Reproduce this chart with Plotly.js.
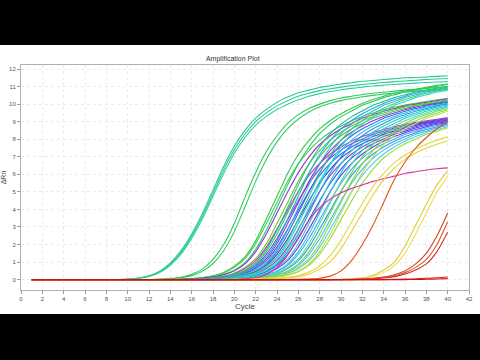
<!DOCTYPE html>
<html>
<head>
<meta charset="utf-8">
<script src="https://cdn.plot.ly/plotly-3.0.1.min.js"></script>
<style>
html,body{margin:0;padding:0;background:#000;width:480px;height:360px;overflow:hidden;}
#chart{position:absolute;left:0;top:45px;width:480px;height:269px;background:#fff;}
</style>
</head>
<body>
<div id="chart"></div>
<script>
const cycles = [1,2,3,4,5,6,7,8,9,10,11,12,13,14,15,16,17,18,19,20,21,22,23,24,25,26,27,28,29,30,31,32,33,34,35,36,37,38,39,40];

// earliest teal group
const a1 = [0,0,0,0,0,0,0,0,0,0.03,0.09,0.22,0.48,0.95,1.65,2.6,3.75,5.1,6.45,7.6,8.5,9.2,9.7,10.1,10.4,10.65,10.8,10.95,11.05,11.15,11.22,11.3,11.35,11.4,11.45,11.5,11.52,11.55,11.58,11.62];
const a2 = [0,0,0,0,0,0,0,0,0,0.02,0.07,0.18,0.4,0.82,1.45,2.35,3.45,4.75,6.05,7.2,8.1,8.8,9.3,9.7,10.0,10.25,10.45,10.6,10.72,10.82,10.9,10.97,11.03,11.08,11.12,11.16,11.2,11.23,11.26,11.28];
const a3 = [0,0,0,0,0,0,0,0,0,0.02,0.08,0.2,0.44,0.88,1.55,2.48,3.6,4.92,6.25,7.4,8.3,9.0,9.5,9.9,10.2,10.45,10.62,10.77,10.88,10.97,11.05,11.12,11.18,11.23,11.28,11.32,11.36,11.4,11.43,11.46];
// second green group
const b1 = [0,0,0,0,0,0,0,0,0,0,0,0,0.03,0.07,0.14,0.3,0.6,1.15,2.0,3.2,4.7,6.1,7.3,8.2,8.9,9.4,9.75,10.0,10.2,10.35,10.45,10.55,10.62,10.68,10.74,10.8,10.85,10.9,10.95,11.0];
const b2 = [0,0,0,0,0,0,0,0,0,0,0,0,0.02,0.05,0.11,0.23,0.48,0.92,1.65,2.75,4.15,5.6,6.85,7.85,8.6,9.15,9.55,9.85,10.05,10.2,10.32,10.42,10.5,10.57,10.63,10.69,10.74,10.79,10.83,10.87];

// main cluster
const c1 = [0,0,0,0,0,0,0,0,0,0,0,0,0,0.02,0.03,0.06,0.12,0.22,0.41,0.76,1.3,2.21,3.46,4.75,6.05,7.13,7.94,8.59,9.07,9.45,9.77,10.04,10.26,10.45,10.62,10.75,10.85,10.96,11.07,11.15];
const c2 = [0,0,0,0,0,0,0,0,0,0,0,0,0,0.015,0.03,0.055,0.11,0.2,0.38,0.7,1.2,2.05,3.2,4.4,5.6,6.6,7.35,7.95,8.4,8.75,9.05,9.3,9.5,9.68,9.83,9.95,10.05,10.15,10.25,10.32];
const c3 = [0,0,0,0,0,0,0,0,0,0,0,0,0,0,0.02,0.04,0.09,0.16,0.3,0.54,0.97,1.73,2.81,4.1,5.4,6.59,7.56,8.32,8.86,9.29,9.61,9.94,10.15,10.37,10.53,10.69,10.8,10.91,11.02,11.12];
const c4 = [0,0,0,0,0,0,0,0,0,0,0,0,0,0,0.02,0.04,0.08,0.15,0.28,0.5,0.9,1.6,2.6,3.8,5.0,6.1,7.0,7.7,8.2,8.6,8.9,9.2,9.4,9.6,9.75,9.9,10.0,10.1,10.2,10.3];
const c5 = [0,0,0,0,0,0,0,0,0,0,0,0,0,0,0.015,0.03,0.055,0.11,0.2,0.38,0.7,1.2,2.05,3.2,4.4,5.6,6.6,7.35,7.95,8.4,8.75,9.05,9.3,9.5,9.68,9.83,9.95,10.05,10.15,10.25];
const c6 = [0,0,0,0,0,0,0,0,0,0,0,0,0,0,0.01,0.03,0.05,0.1,0.18,0.34,0.63,1.08,1.85,2.88,3.96,5.04,5.94,6.62,7.16,7.56,7.88,8.15,8.37,8.55,8.71,8.85,8.96,9.05,9.14,9.23];
const c7 = [0,0,0,0,0,0,0,0,0,0,0,0,0,0,0,0.02,0.04,0.09,0.16,0.3,0.54,0.97,1.73,2.81,4.1,5.4,6.59,7.56,8.32,8.86,9.29,9.61,9.94,10.15,10.37,10.53,10.69,10.8,10.91,11.02];
const c8 = [0,0,0,0,0,0,0,0,0,0,0,0,0,0,0,0.02,0.04,0.07,0.14,0.25,0.45,0.81,1.44,2.34,3.42,4.5,5.49,6.3,6.93,7.38,7.74,8.01,8.28,8.46,8.64,8.78,8.91,9.0,9.09,9.18];
const c9 = [0,0,0,0,0,0,0,0,0,0,0,0,0,0,0,0.02,0.04,0.08,0.15,0.28,0.5,0.9,1.6,2.6,3.8,5.0,6.1,7.0,7.7,8.2,8.6,8.9,9.2,9.4,9.6,9.75,9.9,10.0,10.1,10.2];
const c10 = [0,0,0,0,0,0,0,0,0,0,0,0,0,0,0,0.01,0.03,0.05,0.1,0.18,0.34,0.63,1.08,1.85,2.88,3.96,5.04,5.94,6.62,7.16,7.56,7.88,8.15,8.37,8.55,8.71,8.85,8.96,9.05,9.14];
const c11 = [0,0,0,0,0,0,0,0,0,0,0,0,0,0,0,0.015,0.03,0.055,0.11,0.2,0.38,0.7,1.2,2.05,3.2,4.4,5.6,6.6,7.35,7.95,8.4,8.75,9.05,9.3,9.5,9.68,9.83,9.95,10.05,10.15];
const c12 = [0,0,0,0,0,0,0,0,0,0,0,0,0,0,0,0.02,0.03,0.06,0.12,0.22,0.41,0.76,1.3,2.21,3.46,4.75,6.05,7.13,7.94,8.59,9.07,9.45,9.77,10.04,10.26,10.45,10.62,10.75,10.85,10.96];
const c13 = [0,0,0,0,0,0,0,0,0,0,0,0,0,0,0,0,0.02,0.04,0.08,0.15,0.28,0.5,0.9,1.6,2.6,3.8,5.0,6.1,7.0,7.7,8.2,8.6,8.9,9.2,9.4,9.6,9.75,9.9,10.0,10.1];
const c14 = [0,0,0,0,0,0,0,0,0,0,0,0,0,0,0,0,0.02,0.04,0.07,0.14,0.25,0.45,0.81,1.44,2.34,3.42,4.5,5.49,6.3,6.93,7.38,7.74,8.01,8.28,8.46,8.64,8.78,8.91,9.0,9.09];
const c15 = [0,0,0,0,0,0,0,0,0,0,0,0,0,0,0,0,0.02,0.04,0.09,0.16,0.3,0.54,0.97,1.73,2.81,4.1,5.4,6.59,7.56,8.32,8.86,9.29,9.61,9.94,10.15,10.37,10.53,10.69,10.8,10.91];
const c16 = [0,0,0,0,0,0,0,0,0,0,0,0,0,0,0,0,0.01,0.03,0.05,0.1,0.18,0.34,0.63,1.08,1.85,2.88,3.96,5.04,5.94,6.62,7.16,7.56,7.88,8.15,8.37,8.55,8.71,8.85,8.96,9.05];
const c17 = [0,0,0,0,0,0,0,0,0,0,0,0,0,0,0,0,0.015,0.03,0.055,0.11,0.2,0.38,0.7,1.2,2.05,3.2,4.4,5.6,6.6,7.35,7.95,8.4,8.75,9.05,9.3,9.5,9.68,9.83,9.95,10.05];
const c18 = [0,0,0,0,0,0,0,0,0,0,0,0,0,0,0,0,0.02,0.03,0.06,0.12,0.22,0.41,0.76,1.3,2.21,3.46,4.75,6.05,7.13,7.94,8.59,9.07,9.45,9.77,10.04,10.26,10.45,10.62,10.75,10.85];
const c19 = [0,0,0,0,0,0,0,0,0,0,0,0,0,0,0,0,0,0.02,0.04,0.07,0.14,0.25,0.45,0.81,1.44,2.34,3.42,4.5,5.49,6.3,6.93,7.38,7.74,8.01,8.28,8.46,8.64,8.78,8.91,9.0];
const c20 = [0,0,0,0,0,0,0,0,0,0,0,0,0,0,0,0,0,0.02,0.04,0.08,0.15,0.28,0.5,0.9,1.6,2.6,3.8,5.0,6.1,7.0,7.7,8.2,8.6,8.9,9.2,9.4,9.6,9.75,9.9,10.0];
const c21 = [0,0,0,0,0,0,0,0,0,0,0,0,0,0,0,0,0,0.02,0.04,0.09,0.16,0.3,0.54,0.97,1.73,2.81,4.1,5.4,6.59,7.56,8.32,8.86,9.29,9.61,9.94,10.15,10.37,10.53,10.69,10.8];
const c22 = [0,0,0,0,0,0,0,0,0,0,0,0,0,0,0,0,0,0.01,0.03,0.05,0.1,0.18,0.34,0.63,1.08,1.85,2.88,3.96,5.04,5.94,6.62,7.16,7.56,7.88,8.15,8.37,8.55,8.71,8.85,8.96];
const c23 = [0,0,0,0,0,0,0,0,0,0,0,0,0,0,0,0,0,0.015,0.03,0.055,0.11,0.2,0.38,0.7,1.2,2.05,3.2,4.4,5.6,6.6,7.35,7.95,8.4,8.75,9.05,9.3,9.5,9.68,9.83,9.95];
const c24 = [0,0,0,0,0,0,0,0,0,0,0,0,0,0,0,0,0,0,0.02,0.04,0.07,0.14,0.25,0.45,0.81,1.44,2.34,3.42,4.5,5.49,6.3,6.93,7.38,7.74,8.01,8.28,8.46,8.64,8.78,8.91];
const c25 = [0,0,0,0,0,0,0,0,0,0,0,0,0,0,0,0,0,0,0.02,0.04,0.08,0.15,0.28,0.5,0.9,1.6,2.6,3.8,5.0,6.1,7.0,7.7,8.2,8.6,8.9,9.2,9.4,9.6,9.75,9.9];
const c26 = [0,0,0,0,0,0,0,0,0,0,0,0,0,0,0,0,0,0,0.01,0.03,0.05,0.1,0.18,0.34,0.63,1.08,1.85,2.88,3.96,5.04,5.94,6.62,7.16,7.56,7.88,8.15,8.37,8.55,8.71,8.85];
const c27 = [0,0,0,0,0,0,0,0,0,0,0,0,0,0,0,0,0,0,0.015,0.03,0.055,0.11,0.2,0.38,0.7,1.2,2.05,3.2,4.4,5.6,6.6,7.35,7.95,8.4,8.75,9.05,9.3,9.5,9.68,9.83];
const c28 = [0,0,0,0,0,0,0,0,0,0,0,0,0,0,0,0,0,0,0,0.02,0.04,0.07,0.14,0.25,0.45,0.81,1.44,2.34,3.42,4.5,5.49,6.3,6.93,7.38,7.74,8.01,8.28,8.46,8.64,8.78];
const c29 = [0,0,0,0,0,0,0,0,0,0,0,0,0,0,0,0,0,0,0,0.02,0.04,0.08,0.15,0.28,0.5,0.9,1.6,2.6,3.8,5.0,6.1,7.0,7.7,8.2,8.6,8.9,9.2,9.4,9.6,9.75];
const c30 = [0,0,0,0,0,0,0,0,0,0,0,0,0,0,0,0,0,0,0,0.01,0.03,0.05,0.1,0.18,0.34,0.63,1.08,1.85,2.88,3.96,5.04,5.94,6.62,7.16,7.56,7.88,8.15,8.37,8.55,8.71];
const c31 = [0,0,0,0,0,0,0,0,0,0,0,0,0,0,0,0,0,0,0,0.015,0.03,0.055,0.11,0.2,0.38,0.7,1.2,2.05,3.2,4.4,5.6,6.6,7.35,7.95,8.4,8.75,9.05,9.3,9.5,9.68];
const c32 = [0,0,0,0,0,0,0,0,0,0,0,0,0,0,0,0,0,0,0,0,0.02,0.04,0.07,0.14,0.25,0.45,0.81,1.44,2.34,3.42,4.5,5.49,6.3,6.93,7.38,7.74,8.01,8.28,8.46,8.64];
const c33 = [0,0,0,0,0,0,0,0,0,0,0,0,0,0,0,0,0,0,0,0,0.02,0.04,0.08,0.15,0.28,0.5,0.9,1.6,2.6,3.8,5.0,6.1,7.0,7.7,8.2,8.6,8.9,9.2,9.4,9.6];

// late curves
const magenta = [0,0,0,0,0,0,0,0,0,0,0,0,0,0,0,0,0,0,0,0,0.05,0.12,0.3,0.7,1.4,2.4,3.4,4.1,4.6,4.95,5.2,5.4,5.6,5.75,5.9,6.05,6.15,6.25,6.32,6.37];
const yellow1 = [0,0,0,0,0,0,0,0,0,0,0,0,0,0,0,0,0,0,0,0,0,0.02,0.04,0.07,0.13,0.24,0.43,0.78,1.38,2.25,3.3,4.35,5.3,6.05,6.65,7.1,7.45,7.72,7.95,8.15];
const yellow2 = [0,0,0,0,0,0,0,0,0,0,0,0,0,0,0,0,0,0,0,0,0,0.01,0.03,0.05,0.1,0.17,0.32,0.6,1.03,1.77,2.75,3.8,4.82,5.7,6.35,6.85,7.22,7.5,7.72,7.9];
const orange = [0,0,0,0,0,0,0,0,0,0,0,0,0,0,0,0,0,0,0,0,0,0,0,0,0.01,0.02,0.04,0.08,0.2,0.5,1.1,2.0,3.1,4.4,5.7,6.7,7.5,8.1,8.6,9.0];
const yellow3 = [0,0,0,0,0,0,0,0,0,0,0,0,0,0,0,0,0,0,0,0,0,0,0,0,0,0,0,0,0.01,0.02,0.04,0.1,0.25,0.55,1.0,1.9,3.1,4.3,5.4,6.2];
const yellow4 = [0,0,0,0,0,0,0,0,0,0,0,0,0,0,0,0,0,0,0,0,0,0,0,0,0,0,0,0,0,0.01,0.03,0.07,0.18,0.4,0.8,1.5,2.6,3.8,5.0,5.9];
const red1 = [0,0,0,0,0,0,0,0,0,0,0,0,0,0,0,0,0,0,0,0,0,0,0,0,0,0,0,0,0,0.01,0.02,0.04,0.08,0.15,0.28,0.5,0.9,1.5,2.5,3.8];
const red2 = [0,0,0,0,0,0,0,0,0,0,0,0,0,0,0,0,0,0,0,0,0,0,0,0,0,0,0,0,0,0,0.01,0.03,0.06,0.12,0.22,0.4,0.7,1.15,2.0,3.3];
const red3 = [0,0,0,0,0,0,0,0,0,0,0,0,0,0,0,0,0,0,0,0,0,0,0,0,0,0,0,0,0,0,0,0.02,0.04,0.09,0.17,0.32,0.55,0.9,1.6,2.7];
const redFlat1 = [0,0,0,0,0,0,0,0,0,0,0,0,0,0,0,0,0,0,0,0,0,0,0,0,0,0,0,0,0,0,0,0,0,0,0.02,0.03,0.05,0.08,0.11,0.15];
const redFlat2 = [0,0,0,0,0,0,0,0,0,0,0,0,0,0,0,0,0,0,0,0,0,0,0,0,0,0,0,0,0,0,0,0,0,0,0,0,0.01,0.02,0.04,0.06];

const xTicks = [0,2,4,6,8,10,12,14,16,18,20,22,24,26,28,30,32,34,36,38,40,42];
const yTicks = [0,1,2,3,4,5,6,7,8,9,10,11,12];

const series = [
  [c1,'#2ecc40'],[c2,'#44cc55'],[c3,'#22cc66'],[c4,'#9933cc'],[c5,'#66cc33'],[c6,'#cc33bb'],
  [c7,'#22bb99'],[c8,'#6644dd'],[c9,'#33cc55'],[c10,'#4455ee'],[c11,'#9933cc'],[c12,'#22aadd'],
  [c13,'#3366ff'],[c14,'#2244dd'],[c15,'#33bbcc'],[c16,'#aa33cc'],[c17,'#22ccdd'],[c18,'#44cc77'],
  [c19,'#2255ff'],[c20,'#2299ee'],[c21,'#22ddbb'],[c22,'#7733ee'],[c23,'#33ccbb'],[c24,'#44aaee'],
  [c25,'#22ccdd'],[c26,'#3399dd'],[c27,'#55dd99'],[c28,'#44bbee'],[c29,'#66dd55'],[c30,'#55ccee'],
  [c31,'#88dd44'],[c32,'#99dd33'],[c33,'#bbdd55'],
  [b1,'#2ecc50'],[b2,'#33cc66'],
  [a1,'#22cc88'],[a2,'#2ad49a'],[a3,'#33c98f'],
  [magenta,'#dd3399'],[yellow1,'#dddd44'],[yellow2,'#eecc33'],[orange,'#dd5511'],
  [yellow3,'#ddcc33'],[yellow4,'#eedd55'],
  [red1,'#cc4422'],[red2,'#dd5533'],[red3,'#cc3322'],[redFlat1,'#dd2222'],[redFlat2,'#cc1111']
];

const traces = series.map(s => ({
  type:'scatter', mode:'lines', x:cycles, y:s[0],
  line:{color:s[1], width:1.1, shape:'spline', smoothing:0.6},
  hoverinfo:'skip', showlegend:false
}));

const axisFont = {family:'Liberation Sans, Arial, sans-serif', size:6, color:'#555'};
const layout = {
  width:480, height:269,
  margin:{l:21, r:11, t:20, b:24, pad:0},
  paper_bgcolor:'#ffffff', plot_bgcolor:'#ffffff',
  showlegend:false,
  title:{text:'Amplification Plot', font:{family:'Liberation Sans, Arial, sans-serif', size:7, color:'#333'},
         x:0.485, xanchor:'center', y:0.948, yanchor:'middle'},
  xaxis:{range:[0,42], tickmode:'array', tickvals:xTicks, ticktext:xTicks.map(String),
         ticks:'outside', ticklen:3, tickcolor:'#999', tickfont:axisFont,
         showline:true, linecolor:'#b0b0b0', linewidth:1, mirror:true,
         showgrid:true, gridcolor:'#ececec', griddash:'dot', zeroline:false, automargin:false,
         title:{text:'Cycle', font:{family:'Liberation Sans, Arial, sans-serif', size:8, color:'#444'}, standoff:2}},
  yaxis:{range:[-0.59,12.23], tickmode:'array', tickvals:yTicks, ticktext:yTicks.map(String),
         ticks:'outside', ticklen:3, tickcolor:'#999', tickfont:axisFont,
         showline:true, linecolor:'#b0b0b0', linewidth:1, mirror:true,
         showgrid:true, gridcolor:'#ececec', griddash:'dot', zeroline:false, automargin:false,
         title:{text:'ΔRn', font:{family:'Liberation Sans, Arial, sans-serif', size:7, color:'#444'}, standoff:2}}
};

Plotly.newPlot('chart', traces, layout, {staticPlot:true, displayModeBar:false});
</script>
</body>
</html>
